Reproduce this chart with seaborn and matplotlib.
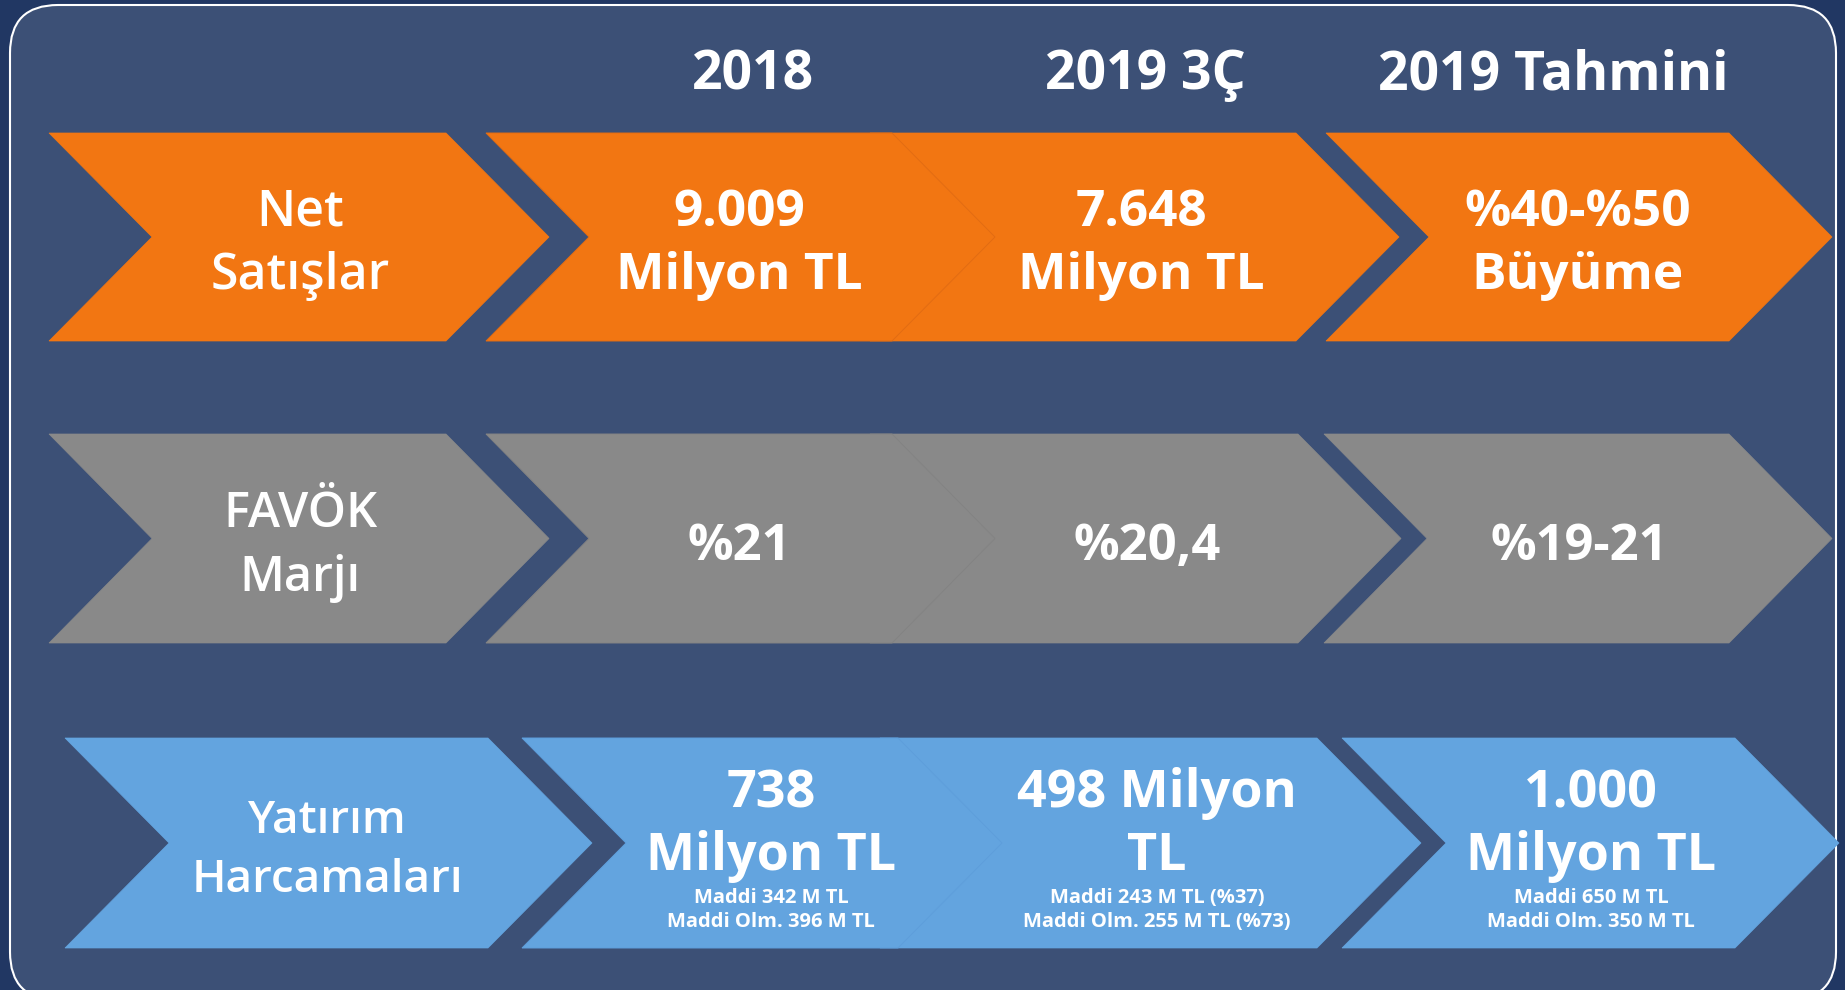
import matplotlib
matplotlib.use("Agg")
import matplotlib.pyplot as plt
import seaborn as sns
from matplotlib.patches import Polygon, FancyBboxPatch

# ---------------- data ----------------
headers = ["2018", "2019 3Ç", "2019 Tahmini"]
row_labels = ["Net\nSatışlar", "FAVÖK\nMarjı", "Yatırım\nHarcamaları"]
net_sales = ["9.009\nMilyon TL", "7.648\nMilyon TL", "%40-%50\nBüyüme"]
favok_margin = ["%21", "%20,4", "%19-21"]
capex = ["738\nMilyon TL", "498 Milyon\nTL", "1.000\nMilyon TL"]
capex_detail = ["Maddi 342 M TL\nMaddi Olm. 396 M TL",
                "Maddi 243 M TL (%37)\nMaddi Olm. 255 M TL (%73)",
                "Maddi 650 M TL\nMaddi Olm. 350 M TL"]

# ---------------- style / layout ----------------
sns.set_theme(style="white")
plt.rcParams["font.family"] = ["Open Sans", "DejaVu Sans"]

W, H = 1845, 990
OUTER = "#213763"
PANEL = "#3c5076"
ROW_COLORS = ["#f27612", "#898989", "#63a4df"]
ROW_EDGES = ["#e26c12", "#838383", "#5e9edb"]

# chevron geometry per row (pixels): top, bottom, lefts, rights, depth
ROWS = [
    dict(top=133, bot=341, lefts=[49, 486, 870, 1326], rights=[446, 892, 1296, 1729], depth=103),
    dict(top=434, bot=643, lefts=[49, 486, 870, 1324], rights=[446, 892, 1298, 1729], depth=103),
    dict(top=738, bot=948, lefts=[65, 522, 880, 1342], rights=[488, 898, 1317, 1735], depth=104),
]

fig = plt.figure(figsize=(W / 100, H / 100), dpi=100, facecolor=OUTER)
ax = fig.add_axes([0, 0, 1, 1])
ax.set_xlim(0, W)
ax.set_ylim(H, 0)
ax.axis("off")
ax.set_facecolor(OUTER)

panel = FancyBboxPatch((10, 5), 1826, 995, boxstyle="round,pad=0,rounding_size=48",
                       facecolor=PANEL, edgecolor="white", linewidth=1.5, zorder=0)
ax.add_patch(panel)


def chevron(left, right, top, bot, depth):
    mid = (top + bot) / 2
    return [(left, top), (right, top), (right + depth, mid), (right, bot),
            (left, bot), (left + depth, mid)]


# draw order: D, C, B, A  (B overlaps C)
for r, g in enumerate(ROWS):
    for c in [3, 2, 1, 0]:
        pts = chevron(g["lefts"][c], g["rights"][c], g["top"], g["bot"], g["depth"])
        ec = ROW_EDGES[r] if c == 1 else ROW_COLORS[r]
        lw = 0.7 if c == 1 else 0.5
        ax.add_patch(Polygon(pts, closed=True, facecolor=ROW_COLORS[r],
                             edgecolor=ec, linewidth=lw, zorder=2 + (3 - c)))


def put_lines(text, x, baselines, size, weight="bold"):
    for line, yb in zip(text.split("\n"), baselines):
        ax.text(x, yb, line, ha="center", va="baseline", color="white",
                fontsize=size, fontweight=weight, zorder=10)


# headers
for txt, x in zip(headers, [753, 1145, 1553]):
    put_lines(txt, x, [89], 38.5)

# row labels
put_lines(row_labels[0], 300, [226, 289], 36, "semibold")
put_lines(row_labels[1], 300, [527, 591], 35, "semibold")
put_lines(row_labels[2], 327, [833, 892], 33, "semibold")

# row 1 values
for txt, x in zip(net_sales, [739, 1141, 1578]):
    put_lines(txt, x, [226, 289], 37)

# row 2 values
for txt, x in zip(favok_margin, [739, 1147, 1579]):
    put_lines(txt, x, [560], 36.5)

# row 3 values
for txt, det, x in zip(capex, capex_detail, [771, 1157, 1591]):
    put_lines(txt, x, [807, 870], 37.5)
    put_lines(det, x, [903, 927], 14.5)

fig.savefig("out.png", dpi=100, facecolor=OUTER)
